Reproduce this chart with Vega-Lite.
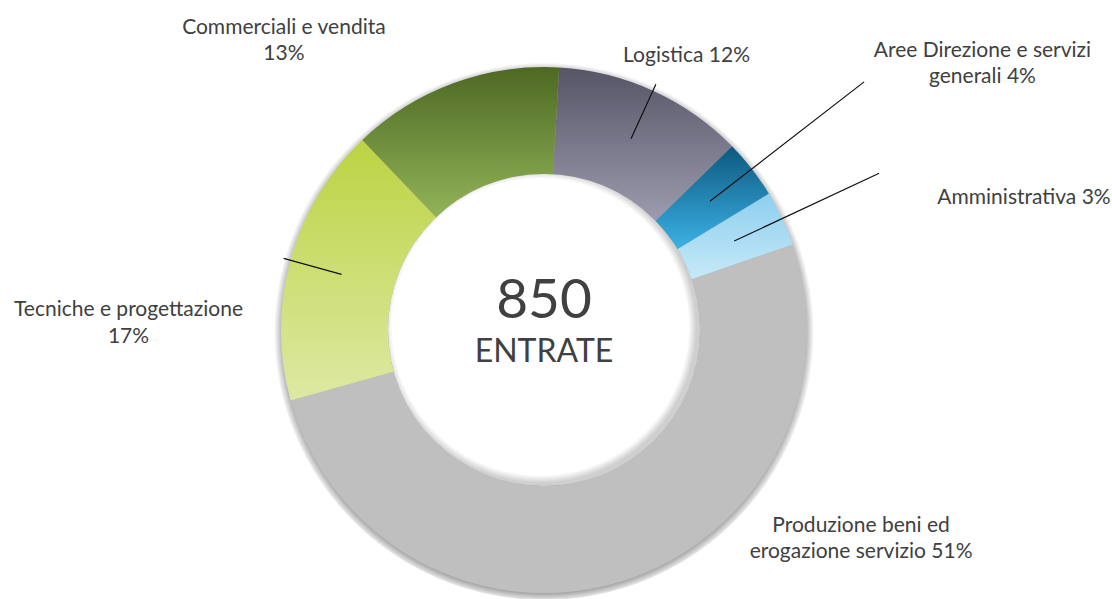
{
  "$schema": "https://vega.github.io/schema/vega-lite/v6.json",
  "width": 1088,
  "height": 538,
  "autosize": "none",
  "padding": {"left": 0, "top": 61, "right": 24, "bottom": 0},
  "background": "white",
  "config": {"view": {"stroke": null}},
  "data": {"values": [
    {"cat": "Logistica", "ord": 1, "n": 100, "lbl": "Logistica 12%"},
    {"cat": "Aree Direzione e servizi generali", "ord": 2, "n": 31, "lbl": "Aree Direzione e servizi\ngenerali 4%"},
    {"cat": "Amministrativa", "ord": 3, "n": 29, "lbl": "Amministrativa 3%"},
    {"cat": "Produzione beni ed erogazione servizio", "ord": 4, "n": 433, "lbl": "Produzione beni ed\nerogazione servizio 51%"},
    {"cat": "Tecniche e progettazione", "ord": 5, "n": 146, "lbl": "Tecniche e progettazione\n17%"},
    {"cat": "Commerciali e vendita", "ord": 6, "n": 111, "lbl": "Commerciali e vendita\n13%"}
  ]},
  "layer": [
    {
      "data": {"values": [{"k": "shadow"}]},
      "mark": {"type": "arc", "theta": 0, "theta2": 6.2832, "radius": 270, "radius2": 0,
        "fill": {"gradient": "radial", "x1": 0.5, "y1": 0.505, "r1": 0, "x2": 0.5, "y2": 0.505, "r2": 0.5,
          "stops": [{"offset": 0, "color": "#999999"}, {"offset": 0.965, "color": "#a6a6a6"}, {"offset": 1, "color": "#ffffff"}]}},
      "encoding": {}
    },
    {
      "mark": {"type": "arc", "radius": 263, "radius2": 156},
      "encoding": {
        "theta": {"field": "n", "type": "quantitative", "stack": true, "scale": {"range": [0.0576, 6.3408]}},
        "order": {"field": "ord", "type": "quantitative"},
        "fill": {
          "condition": [
            {"test": "datum.ord === 1", "value": {"gradient": "linear", "x1": 0, "y1": 0, "x2": 0, "y2": 1, "stops": [{"offset": 0, "color": "#555566"}, {"offset": 1, "color": "#9c9cae"}]}},
            {"test": "datum.ord === 2", "value": {"gradient": "linear", "x1": 0, "y1": 0, "x2": 0, "y2": 1, "stops": [{"offset": 0, "color": "#0c587e"}, {"offset": 1, "color": "#3cb2e6"}]}},
            {"test": "datum.ord === 3", "value": {"gradient": "linear", "x1": 0, "y1": 0, "x2": 0, "y2": 1, "stops": [{"offset": 0, "color": "#8dcfee"}, {"offset": 1, "color": "#c6e9f8"}]}},
            {"test": "datum.ord === 5", "value": {"gradient": "linear", "x1": 0, "y1": 0, "x2": 0, "y2": 1, "stops": [{"offset": 0, "color": "#bcd342"}, {"offset": 1, "color": "#dde9a3"}]}},
            {"test": "datum.ord === 6", "value": {"gradient": "linear", "x1": 0, "y1": 0, "x2": 0, "y2": 1, "stops": [{"offset": 0, "color": "#4d6923"}, {"offset": 1, "color": "#92b458"}]}}
          ],
          "value": "#bfbfbf"
        }
      }
    },
    {
      "data": {"values": [{"k": "hole"}]},
      "mark": {"type": "arc", "theta": 0, "theta2": 6.2832, "radius": 156, "radius2": 0,
        "fill": {"gradient": "radial", "x1": 0.488, "y1": 0.49, "r1": 0, "x2": 0.488, "y2": 0.49, "r2": 0.5,
          "stops": [{"offset": 0, "color": "#ffffff"}, {"offset": 0.95, "color": "#ffffff"}, {"offset": 1, "color": "#cfcfcf"}]}},
      "encoding": {}
    },
    {
      "mark": {"type": "arc", "filled": false, "radius": 270, "radius2": 210, "padAngle": 3.1416, "stroke": "#111111", "strokeWidth": 1.2},
      "encoding": {
        "theta": {"field": "n", "type": "quantitative", "stack": true, "scale": {"range": [0.0576, 6.3408]}},
        "order": {"field": "ord", "type": "quantitative"},
        "strokeOpacity": {"condition": {"test": "datum.ord === 1 || datum.ord === 5", "value": 1}, "value": 0}
      }
    },
    {
      "mark": {"type": "arc", "filled": false, "radius": 405, "radius2": 210, "padAngle": 3.1416, "stroke": "#111111", "strokeWidth": 1.2},
      "encoding": {
        "theta": {"field": "n", "type": "quantitative", "stack": true, "scale": {"range": [0.0576, 6.3408]}},
        "order": {"field": "ord", "type": "quantitative"},
        "strokeOpacity": {"condition": {"test": "datum.ord === 2", "value": 1}, "value": 0}
      }
    },
    {
      "mark": {"type": "arc", "filled": false, "radius": 370, "radius2": 210, "padAngle": 3.1416, "stroke": "#111111", "strokeWidth": 1.2},
      "encoding": {
        "theta": {"field": "n", "type": "quantitative", "stack": true, "scale": {"range": [0.0576, 6.3408]}},
        "order": {"field": "ord", "type": "quantitative"},
        "strokeOpacity": {"condition": {"test": "datum.ord === 3", "value": 1}, "value": 0}
      }
    },
    {
      "mark": {"type": "text", "radius": 303, "dx": 17, "dy": 8, "align": "center", "baseline": "alphabetic", "font": "Lato", "fontSize": 21, "color": "#404040", "lineBreak": "\n", "lineHeight": 26},
      "encoding": {
        "theta": {"field": "n", "type": "quantitative", "stack": true, "scale": {"range": [0.0576, 6.3408]}},
        "order": {"field": "ord", "type": "quantitative"},
        "text": {"condition": {"test": "datum.ord === 1", "field": "lbl", "type": "nominal"}, "value": ""}
      }
    },
    {
      "mark": {"type": "text", "radius": 513, "dx": 33, "dy": 41, "align": "center", "baseline": "alphabetic", "font": "Lato", "fontSize": 21, "color": "#404040", "lineBreak": "\n", "lineHeight": 26},
      "encoding": {
        "theta": {"field": "n", "type": "quantitative", "stack": true, "scale": {"range": [0.0576, 6.3408]}},
        "order": {"field": "ord", "type": "quantitative"},
        "text": {"condition": {"test": "datum.ord === 2", "field": "lbl", "type": "nominal"}, "value": ""}
      }
    },
    {
      "mark": {"type": "text", "radius": 488, "dx": 38, "dy": 81, "align": "center", "baseline": "alphabetic", "font": "Lato", "fontSize": 21, "color": "#404040", "lineBreak": "\n", "lineHeight": 26},
      "encoding": {
        "theta": {"field": "n", "type": "quantitative", "stack": true, "scale": {"range": [0.0576, 6.3408]}},
        "order": {"field": "ord", "type": "quantitative"},
        "text": {"condition": {"test": "datum.ord === 3", "field": "lbl", "type": "nominal"}, "value": ""}
      }
    },
    {
      "mark": {"type": "text", "radius": 287, "dx": 232, "dy": -72, "align": "center", "baseline": "alphabetic", "font": "Lato", "fontSize": 21, "color": "#404040", "lineBreak": "\n", "lineHeight": 26},
      "encoding": {
        "theta": {"field": "n", "type": "quantitative", "stack": true, "scale": {"range": [0.0576, 6.3408]}},
        "order": {"field": "ord", "type": "quantitative"},
        "text": {"condition": {"test": "datum.ord === 4", "field": "lbl", "type": "nominal"}, "value": ""}
      }
    },
    {
      "mark": {"type": "text", "radius": 405, "dx": -25, "dy": 93, "align": "center", "baseline": "alphabetic", "font": "Lato", "fontSize": 21, "color": "#404040", "lineBreak": "\n", "lineHeight": 27},
      "encoding": {
        "theta": {"field": "n", "type": "quantitative", "stack": true, "scale": {"range": [0.0576, 6.3408]}},
        "order": {"field": "ord", "type": "quantitative"},
        "text": {"condition": {"test": "datum.ord === 5", "field": "lbl", "type": "nominal"}, "value": ""}
      }
    },
    {
      "mark": {"type": "text", "radius": 368, "dx": -133, "dy": 49, "align": "center", "baseline": "alphabetic", "font": "Lato", "fontSize": 21, "color": "#404040", "lineBreak": "\n", "lineHeight": 26},
      "encoding": {
        "theta": {"field": "n", "type": "quantitative", "stack": true, "scale": {"range": [0.0576, 6.3408]}},
        "order": {"field": "ord", "type": "quantitative"},
        "text": {"condition": {"test": "datum.ord === 6", "field": "lbl", "type": "nominal"}, "value": ""}
      }
    },
    {
      "data": {"values": [{"t": "850"}]},
      "mark": {"type": "text", "align": "center", "baseline": "alphabetic", "dy": -12, "font": "Lato", "fontSize": 55, "color": "#404040"},
      "encoding": {"text": {"field": "t", "type": "nominal"}}
    },
    {
      "data": {"values": [{"t": "ENTRATE"}]},
      "mark": {"type": "text", "align": "center", "baseline": "alphabetic", "dy": 32, "font": "Lato", "fontSize": 32, "color": "#404040"},
      "encoding": {"text": {"field": "t", "type": "nominal"}}
    }
  ]
}
